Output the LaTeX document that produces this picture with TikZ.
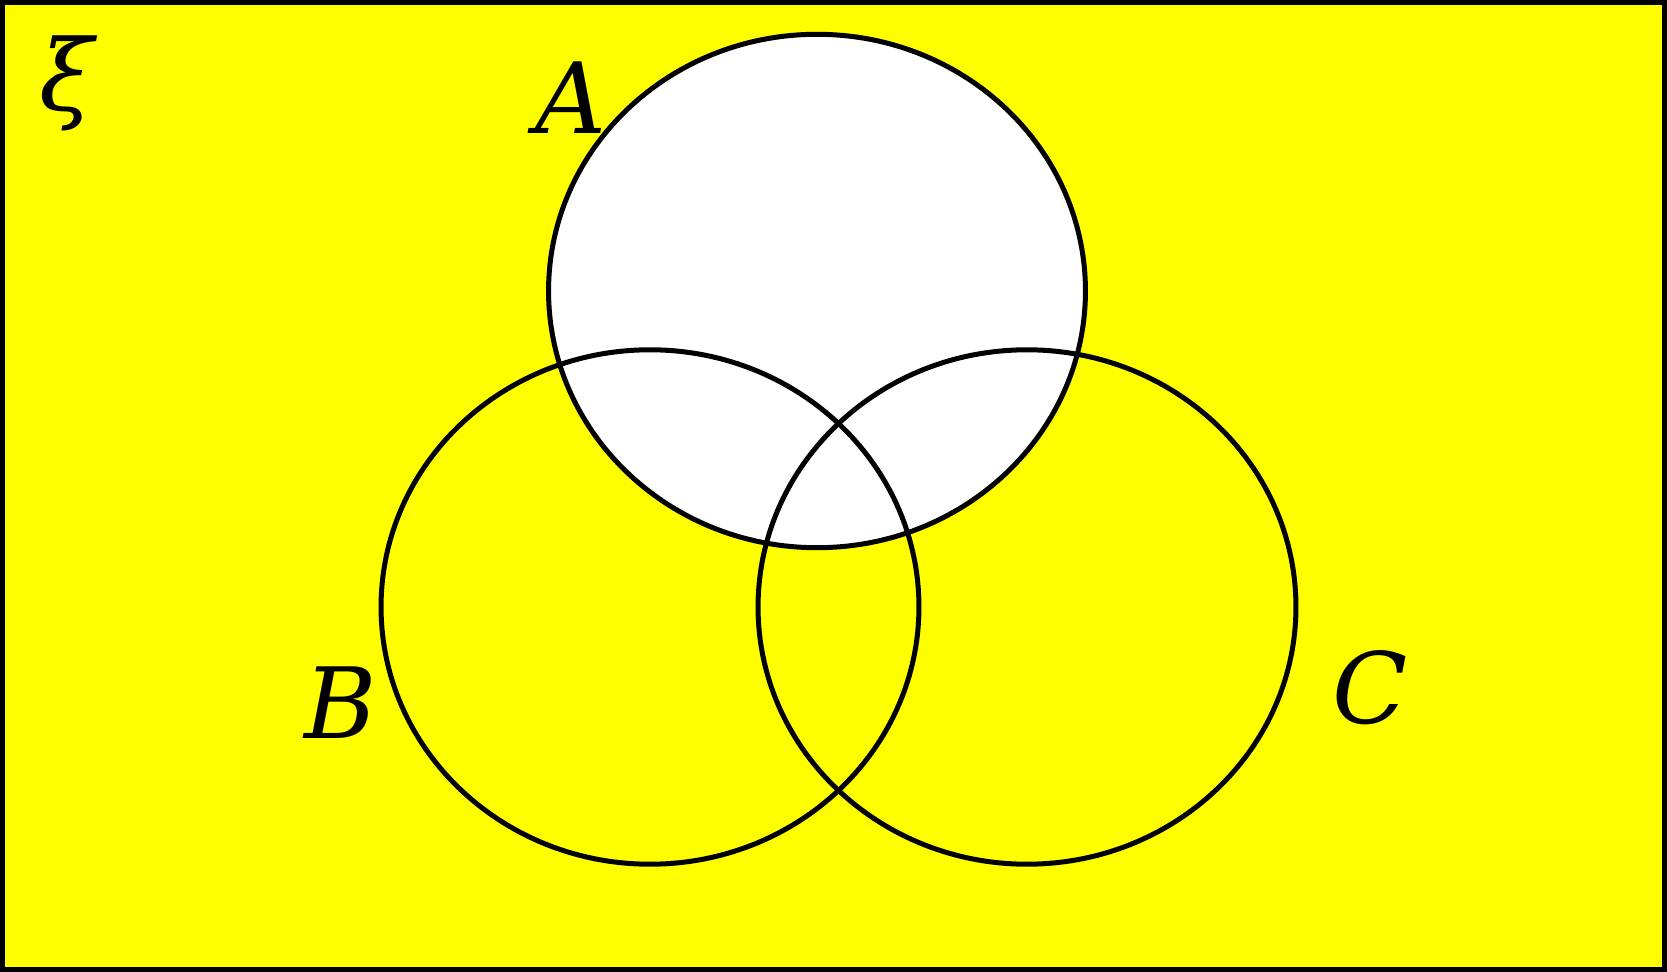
\documentclass[tikz,border=0pt]{standalone}
\usepackage{fontspec}
\setmainfont{DejaVu Serif}
\usepackage{xcolor}
\definecolor{VennYellow}{RGB}{255,255,0}
\tikzset{
  setline/.style={draw=black,line width=0.1cm},
  setlabel/.style={font=\fontsize{56}{60}\selectfont\itshape,inner sep=0pt},
}

\begin{document}
\begin{tikzpicture}[x=0.02cm,y=-0.02cm]
  \useasboundingbox (0,0) rectangle (1667,972);
  % universal set
  \fill[VennYellow] (0,0) rectangle (1667,972);
  \fill[white] (817,291) ellipse [x radius=5.37cm,y radius=5.135cm];

  \draw[setline] (817,291) ellipse [x radius=5.37cm,y radius=5.135cm];
  \draw[setline] (650,607) ellipse [x radius=5.38cm,y radius=5.145cm];
  \draw[setline] (1027,607) ellipse [x radius=5.38cm,y radius=5.145cm];

  \draw[line width=0.1cm] (2.5,2.5) rectangle (1664.5,969.5);

  \node[setlabel] (xi) at (67,83) {ξ};
  \node[setlabel] (a) at (571,98) {A};
  \node[setlabel] (b) at (341,703) {B};
  \node[setlabel] (c) at (1370,688) {C};
\end{tikzpicture}
\end{document}
